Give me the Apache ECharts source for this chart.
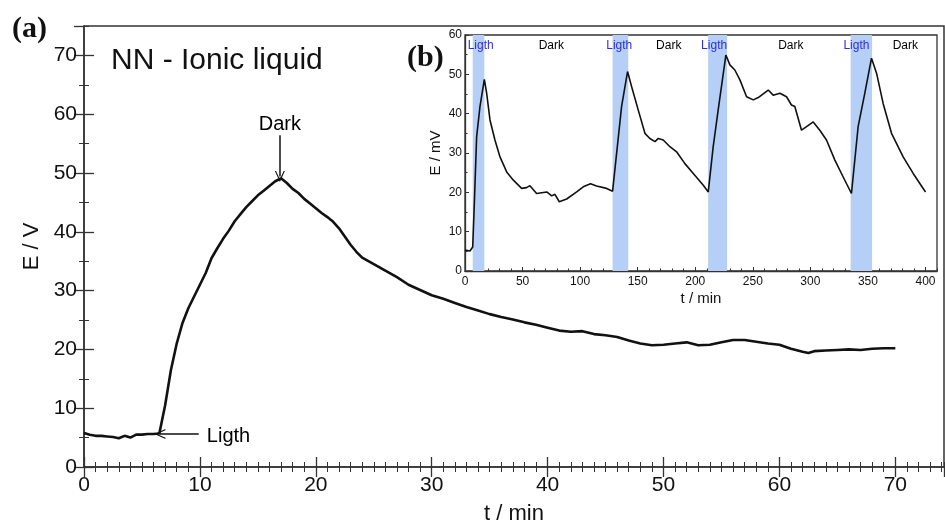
<!DOCTYPE html>
<html lang="en">
  <head>
    <meta charset="UTF-8" />
    <title>NN - Ionic liquid</title>
    <script src="https://cdn.jsdelivr.net/npm/echarts@6/dist/echarts.min.js"></script>
    <style>
      html, body { margin: 0; padding: 0; background: #fff; }
      #main { width: 945px; height: 521px; }
    </style>
  </head>
  <body>
    <div id="main"></div>
    <script>
      // main curve (a): t / min, E / V
      const mainT = [0, 0.5, 1, 1.5, 2, 2.5, 3, 3.5, 4, 4.5, 5, 5.5, 6, 6.5, 7, 7.5, 8, 8.5, 9, 9.5,
        10, 10.5, 11, 11.5, 12, 12.5, 13, 13.5, 14, 14.5, 15, 15.5, 16, 16.5, 17, 17.5, 18, 18.5, 19, 19.5,
        20, 20.5, 21, 21.5, 22, 22.5, 23, 23.5, 24, 25, 26, 27, 28, 29, 30, 31, 32, 33, 34, 35, 36, 37, 38, 39,
        40, 41, 42, 43, 44, 45, 46, 47, 48, 49, 50, 51, 52, 53, 54, 55, 56, 57, 58, 59, 60, 61, 62, 62.5,
        63, 64, 65, 66, 67, 68, 69, 70];
      const mainE = [5.8, 5.5, 5.3, 5.3, 5.2, 5.1, 4.9, 5.3, 5.0, 5.5, 5.5, 5.6, 5.6, 5.7, 10.5, 16.5, 21, 24.5, 27, 29,
        31, 33, 35.5, 37.2, 38.8, 40.2, 41.8, 43, 44.2, 45.2, 46.2, 47, 47.8, 48.6, 49.1, 48.3, 47.3, 46.6, 45.6, 44.8,
        44, 43.2, 42.5, 41.7, 40.6, 39.2, 37.8, 36.6, 35.6, 34.5, 33.4, 32.3, 31.0, 30.1, 29.2, 28.6, 27.9, 27.2, 26.6, 26.0, 25.5, 25.1, 24.6, 24.2,
        23.7, 23.2, 23.0, 23.1, 22.6, 22.4, 22.1, 21.5, 21.0, 20.7, 20.8, 21.0, 21.2, 20.7, 20.8, 21.2, 21.6, 21.6, 21.3, 21.0, 20.8, 20.1, 19.6, 19.4,
        19.7, 19.8, 19.9, 20.0, 19.9, 20.1, 20.2, 20.2];

      // inset curve (b): t / min, E / mV
      const insetT = [0, 4.3, 6.7, 8.1, 10.1, 13, 16.8, 18.8, 21.7, 26, 30.4, 36.2, 42, 49.2, 53.5, 56.4, 62.2, 71, 75.3, 78.1,
        81.9, 88.3, 97, 102.7, 109, 114.3, 123, 128.2, 131.7, 136, 141.2, 144.7, 150.5, 156.3, 160.6, 165, 167.9, 172.2, 178, 183.8,
        191, 198.3, 207, 211.3, 215.6, 219.9, 226.6, 230.1, 234.4, 238.8, 244.6, 250.4, 254.7, 263.4, 267.7, 273.5, 279.3, 283.6, 286.5, 292.3,
        296.7, 302.5, 308.2, 314, 321.3, 328.5, 335.7, 341.5, 347.3, 353.1, 357.5, 363.2, 370.5, 380.6, 389.3, 400];
      const insetE = [5.3, 5.1, 6.1, 17.1, 34.1, 41.8, 48.7, 45.2, 38.4, 33.3, 29, 25.2, 23.1, 21, 21.2, 21.7, 19.7, 20.1, 19.1, 19.5,
        17.6, 18.3, 20.1, 21.4, 22.2, 21.6, 21, 20.3, 29.9, 41.8, 50.7, 46.9, 40.9, 35, 33.7, 32.9, 33.7, 33.3, 31.6, 30.3,
        27.3, 24.8, 21.8, 20.1, 31.6, 40.9, 54.9, 52.4, 51.1, 48.6, 44.3, 43.5, 44.1, 46, 44.7, 45.2, 44.3, 42.2, 41.8, 35.8,
        36.7, 37.9, 35.8, 33.3, 28.2, 23.9, 19.7, 36.7, 45.2, 54.1, 50.3, 42.6, 35, 29, 24.8, 20.1];

      // light periods in the inset
      const lightStart = [6.7, 128.2, 211.2, 335];
      const lightEnd = [16.8, 141.8, 227.7, 353.6];
      const lightLabelT = [13.6, 134, 216.4, 340];
      const darkLabelT = [75, 177, 283, 382.5];

      const FONT = 'Liberation Sans';
      const INK = '#111';
      const chevron = 'path://M0,0L10,12L7.6,12L0,3L-7.6,12L-10,12Z';

      const mainRect = { left: 84, top: 26, width: 860, height: 441, outerBoundsMode: 'none' };
      const insetRect = { left: 465, top: 35, width: 472, height: 236, outerBoundsMode: 'none' };

      function tickAxis(grid, pos, min, max, interval, len, width) {
        // axis that only draws ticks (used for frames and minor ticks)
        return {
          type: 'value', gridIndex: grid, position: pos, min: min, max: max, interval: interval,
          axisLine: { show: false },
          axisTick: { show: true, inside: true, length: len, lineStyle: { color: '#333', width: width } },
          axisLabel: { show: false },
          splitLine: { show: false }
        };
      }

      var myChart = echarts.init(document.getElementById('main'));
      var option = {
        animation: false,
        backgroundColor: '#fff',
        textStyle: { fontFamily: FONT },
        grid: [
          Object.assign({ show: true, borderColor: '#333', borderWidth: 1.5, backgroundColor: 'transparent' }, mainRect),
          Object.assign({ show: true, borderColor: '#333', borderWidth: 1.3, backgroundColor: '#fff' }, insetRect),
          Object.assign({ show: false }, mainRect),
          Object.assign({ show: false }, insetRect)
        ],
        xAxis: [
          {
            type: 'value', gridIndex: 0, position: 'bottom', min: 0, max: 74.2, interval: 10,
            name: 't / min', nameLocation: 'middle', nameGap: 36,
            nameTextStyle: { fontSize: 22, color: INK, fontFamily: FONT },
            axisLine: { show: true, lineStyle: { color: '#333', width: 1.5 } },
            axisTick: { show: true, inside: true, length: 10, lineStyle: { color: '#333', width: 1.3 } },
            axisLabel: { fontSize: 21, color: INK, margin: 8, showMaxLabel: false, fontFamily: FONT },
            splitLine: { show: false }
          },
          tickAxis(0, 'top', 0, 74.2, 10, 10, 1.3),
          {
            type: 'value', gridIndex: 1, position: 'bottom', min: 0, max: 410, interval: 50,
            name: 't / min', nameLocation: 'middle', nameGap: 20,
            nameTextStyle: { fontSize: 15, color: INK, fontFamily: FONT },
            axisLine: { show: true, lineStyle: { color: '#333', width: 1.3 } },
            axisTick: { show: true, inside: true, length: 4, lineStyle: { color: '#333', width: 1 } },
            axisLabel: { fontSize: 12, color: INK, margin: 5, showMaxLabel: false, fontFamily: FONT },
            splitLine: { show: false }
          },
          tickAxis(2, 'bottom', 0, 74.2, 1, 5, 1),
          tickAxis(2, 'top', 0, 74.2, 1, 5, 1),
          tickAxis(3, 'bottom', 0, 410, 10, 2.5, 1)
        ],
        yAxis: [
          {
            type: 'value', gridIndex: 0, position: 'left', min: 0, max: 75, interval: 10,
            name: 'E / V', nameLocation: 'middle', nameGap: 40,
            nameTextStyle: { fontSize: 22, color: INK, fontFamily: FONT },
            axisLine: { show: true, lineStyle: { color: '#333', width: 1.5 } },
            axisTick: { show: true, inside: true, length: 10, lineStyle: { color: '#333', width: 1.3 } },
            axisLabel: { fontSize: 21, color: INK, margin: 7, showMaxLabel: false, fontFamily: FONT },
            splitLine: { show: false }
          },
          tickAxis(0, 'right', 0, 75, 10, 10, 1.3),
          {
            type: 'value', gridIndex: 1, position: 'left', min: 0, max: 60, interval: 10,
            name: 'E / mV', nameLocation: 'middle', nameGap: 22,
            nameTextStyle: { fontSize: 15, color: INK, fontFamily: FONT },
            axisLine: { show: true, lineStyle: { color: '#333', width: 1.3 } },
            axisTick: { show: true, inside: true, length: 4, lineStyle: { color: '#333', width: 1 } },
            axisLabel: { fontSize: 12, color: INK, margin: 3, fontFamily: FONT },
            splitLine: { show: false }
          },
          tickAxis(2, 'left', 0, 75, 5, 5, 1),
          tickAxis(2, 'right', 0, 75, 5, 5, 1),
          tickAxis(3, 'left', 0, 60, 5, 2.5, 1)
        ],
        graphic: [
          { type: 'text', left: 12, top: 14, style: { text: '(a)', font: 'bold 30px "Liberation Serif"', fill: '#111' } },
          { type: 'text', left: 407, top: 43, style: { text: '(b)', font: 'bold 30px "Liberation Serif"', fill: '#111' } },
          { type: 'text', left: 111, top: 46, style: { text: 'NN - Ionic liquid', font: '30px "Liberation Sans"', fill: INK } }
        ],
        series: [
          {
            name: 'NN - Ionic liquid',
            type: 'line', xAxisIndex: 0, yAxisIndex: 0,
            showSymbol: false, z: 3,
            lineStyle: { color: '#111', width: 2.6 },
            data: mainT.map((t, i) => [t, mainE[i]]),
            markLine: {
              silent: true, animation: false,
              symbol: ['none', chevron], symbolSize: [10, 11],
              label: { show: false },
              lineStyle: { color: '#111', width: 1.5, type: 'solid' },
              data: [
                [{ coord: [16.9, 56.4] }, { coord: [16.9, 49.4] }],
                [{ coord: [9.9, 5.6] }, { coord: [6.55, 5.6] }]
              ]
            }
          },
          {
            type: 'scatter', xAxisIndex: 0, yAxisIndex: 0, symbolSize: 1,
            itemStyle: { color: 'rgba(0,0,0,0)' }, silent: true,
            label: { show: true, position: 'inside', formatter: '{b}', fontSize: 20, color: '#000', opacity: 1, fontFamily: FONT },
            data: [
              { name: 'Dark', value: [16.9, 58.3] },
              { name: 'Ligth', value: [10.6, 5.2], label: { align: 'left' } }
            ]
          },
          {
            name: 'inset',
            type: 'line', xAxisIndex: 2, yAxisIndex: 2,
            showSymbol: false, z: 3,
            lineStyle: { color: '#111', width: 1.6 },
            data: insetT.map((t, i) => [t, insetE[i]]),
            markArea: {
              silent: true,
              itemStyle: { color: '#b6cff7', opacity: 1 },
              data: lightStart.map((s, i) => [{ xAxis: s }, { xAxis: lightEnd[i] }])
            }
          },
          {
            type: 'scatter', xAxisIndex: 2, yAxisIndex: 2, symbolSize: 1, z: 4,
            itemStyle: { color: 'rgba(0,0,0,0)' }, silent: true,
            label: { show: true, position: 'inside', formatter: '{b}', fontSize: 12, opacity: 1, fontFamily: FONT },
            data: lightLabelT.map((t) => ({ name: 'Ligth', value: [t, 57.2], label: { color: '#2f2fd6' } }))
              .concat(darkLabelT.map((t) => ({ name: 'Dark', value: [t, 57.2], label: { color: '#000' } })))
          }
        ]
      };
      myChart.setOption(option);
    </script>
  </body>
</html>
